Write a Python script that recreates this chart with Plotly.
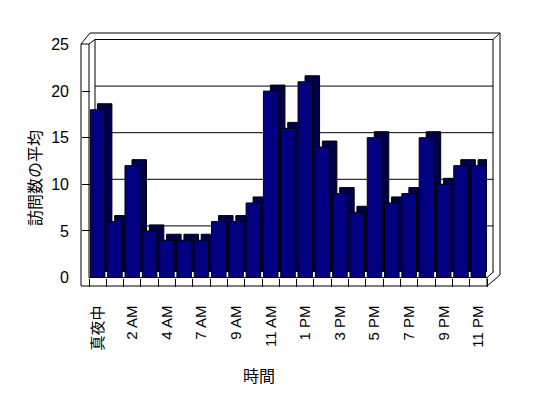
import plotly.graph_objects as go

# ---- data ----
hours = ["真夜中", "1 AM", "2 AM", "3 AM", "4 AM", "5 AM", "7 AM", "8 AM", "9 AM", "10 AM",
         "11 AM", "12 PM", "1 PM", "2 PM", "3 PM", "4 PM", "5 PM", "6 PM", "7 PM", "8 PM",
         "9 PM", "10 PM", "11 PM"]
visits = [18, 6, 12, 5, 4, 4, 4, 6, 6, 8, 20, 16, 21, 14, 9, 7, 15, 8, 9, 15, 10, 12, 12]
y_ticks = [0, 5, 10, 15, 20, 25]
y_title = "訪問数の平均"
x_title = "時間"

# ---- geometry helpers (page pixel -> paper) ----
OFF = 8                      # default body margin of the html page
PAGE_W, PAGE_H = 548, 398
W, H = PAGE_W - OFF, PAGE_H - OFF
L, R, T, B = 81, 500, 33, 286
PW, PH = R - L, B - T


def px(x):
    return (x - L) / PW


def py(y):
    return (B - y) / PH


n = len(hours)
idx = list(range(n))
xr = [-0.5, n - 0.5]
FONT = "Liberation Sans, Arial, Noto Sans CJK JP, sans-serif"

# front plane in page pixels
FX0, FX1, FY0, FY1 = 89, 487, 277.5, 44.5
BW = 0.84                                  # bar width (category units)
DEPTH_X = 7 * n / (FX1 - FX0)              # 7 px to the right, in x units
DEPTH_Y = 6 * 25 / (FY0 - FY1)             # 6 px upward, in y units

fig = go.Figure()
# depth faces (top + side), dithered look, drawn behind the fronts
fig.add_trace(go.Bar(x=idx, y=visits, base=DEPTH_Y, width=BW, offset=-BW / 2 + DEPTH_X,
                     marker=dict(color="#000080", line=dict(color="black", width=1),
                                 pattern=dict(shape=".", fgcolor="black", bgcolor="#000080",
                                              size=2, solidity=0.5, fillmode="replace")),
                     cliponaxis=False, showlegend=False, hoverinfo="skip"))
# front faces
fig.add_trace(go.Bar(x=idx, y=visits, width=BW, offset=-BW / 2,
                     marker=dict(color="#000080", line=dict(color="black", width=1)),
                     cliponaxis=False, showlegend=False))

fig.update_layout(
    width=W, height=H,
    margin=dict(l=L - OFF, r=PAGE_W - R, t=T - OFF, b=PAGE_H - B, pad=0, autoexpand=False),
    paper_bgcolor="white", plot_bgcolor="rgba(0,0,0,0)",
    barmode="overlay",
    font=dict(family=FONT, size=15, color="black"),
    xaxis=dict(domain=[px(FX0), px(FX1)], range=xr,
               tickvals=idx[::2], ticktext=hours[::2], tickangle=-90,
               ticks="", showline=False, showgrid=False, zeroline=False, automargin=False,
               ticklabelstandoff=24, tickfont=dict(size=15),
               minor=dict(tickvals=[i - 0.5 for i in range(n + 1)], ticks="outside",
                          ticklen=8, tickcolor="black", tickwidth=1, showgrid=False)),
    yaxis=dict(domain=[py(FY0), py(FY1)], range=[0, 25],
               anchor="free", position=0, tickvals=y_ticks,
               ticks="inside", ticklen=8, tickcolor="black", tickwidth=1,
               showgrid=False, zeroline=False, showline=False, automargin=False,
               ticklabelstandoff=12, tickfont=dict(size=16)),
)

shapes = []
# back-wall gridlines (5 px above the front scale)
for v in y_ticks[1:-1]:
    shapes.append(dict(type="line", xref="paper", yref="y", ysizemode="pixel", yanchor=v,
                       x0=px(95), x1=px(493), y0=5, y1=5, layer="below",
                       line=dict(color="black", width=1)))

# ---- 3D frame (walls and floor) ----
segs_below = [
    ((90, 33), (500, 33)),
    ((500, 33), (500, 275)),
    ((95, 39.5), (493, 39.5)),
    ((493, 39.5), (493, 272)),
    ((493, 39.5), (500, 33)),
    ((95, 39.5), (95, 272)),
]
segs_above = [
    ((81, 44), (81, 286)),
    ((89, 44), (89, 277.5)),
    ((81, 44), (89, 44)),
    ((81, 44), (90, 33)),
    ((89, 44), (95, 39.5)),
    ((81, 286), (487, 286)),
    ((89, 277.5), (487, 277.5)),
    ((487, 277.5), (487, 286)),
    ((487, 286), (500, 275)),
    ((487, 277.5), (494, 271.5)),
]
for segs, layer in ((segs_below, "below"), (segs_above, "above")):
    for (x0, y0), (x1, y1) in segs:
        shapes.append(dict(type="line", xref="paper", yref="paper", layer=layer,
                           x0=px(x0), y0=py(y0), x1=px(x1), y1=py(y1),
                           line=dict(color="black", width=1)))
fig.update_layout(shapes=shapes)

fig.add_annotation(text=y_title, xref="paper", yref="paper", x=px(35), y=py(178),
                   textangle=-90, showarrow=False, font=dict(size=16),
                   xanchor="center", yanchor="middle")
fig.add_annotation(text=x_title, xref="paper", yref="paper", x=px(259), y=py(376),
                   showarrow=False, font=dict(size=16), xanchor="center", yanchor="middle")

fig.write_html("out.html")
